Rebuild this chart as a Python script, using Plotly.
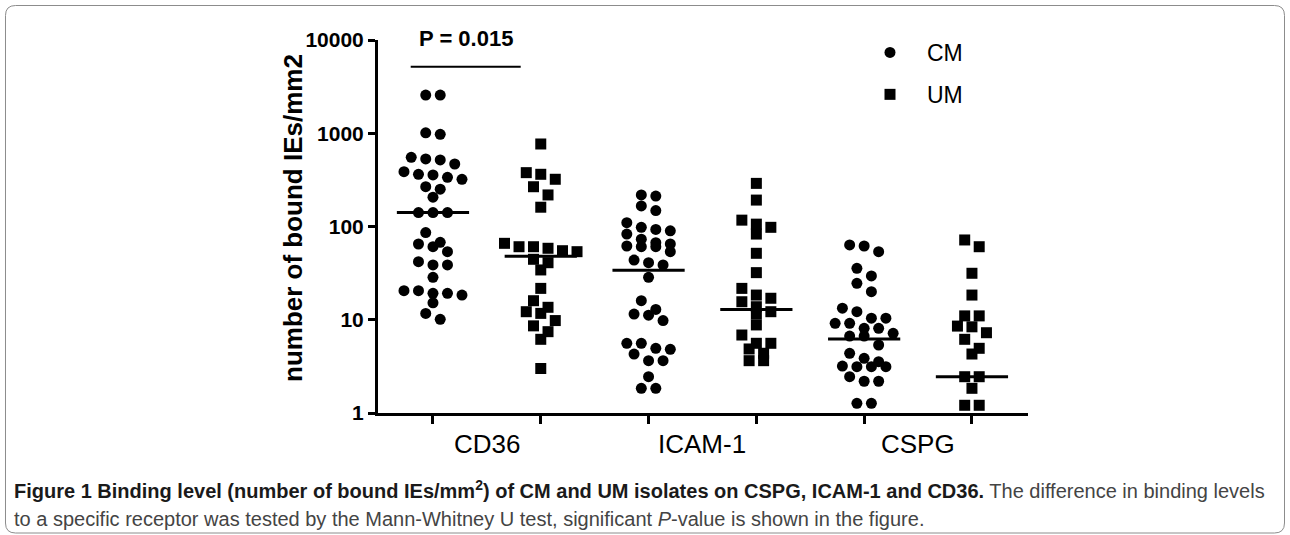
import numpy as np
import plotly.graph_objects as go

# ---------------- data ----------------
receptors = ["CD36", "ICAM-1", "CSPG"]
groups = ["CM", "UM"]

cd36_cm = [2570, 2570, 1010, 975, 552, 530, 517, 468, 387, 363, 357, 337, 321,
           267, 251, 206, 141, 141, 141, 86, 67.7, 64.9, 60.7, 53.7, 41.9, 38.7,
           38.7, 28.5, 20.5, 20.5, 19.2, 19.2, 18.4, 15.2, 11.7, 10.1]
cd36_um = [767, 378, 363, 321, 267, 218, 161, 66, 60.7, 60.7, 58.4, 55, 53.7,
           44.5, 40.9, 34.2, 21.7, 16.0, 13.6, 12.2, 11.7, 9.8, 8.6, 7.45, 6.17, 3.0]
icam_cm = [218, 212, 166, 148, 110, 98, 93, 90, 83, 73, 67, 64.9, 61.8, 60.7,
           60.7, 53.7, 43.7, 40.9, 38.7, 28.5, 16.0, 12.9, 11.5, 11.2, 9.8, 5.59,
           5.59, 4.94, 4.82, 4.29, 3.64, 3.64, 2.45, 1.84, 1.84]
icam_um = [290, 192, 117, 106, 98, 83, 51.6, 32, 21.7, 18.4, 17, 15.6, 13.8,
           12.2, 11.5, 8.8, 6.86, 5.59, 5.59, 4.86, 4.37, 3.64, 3.64]
cspg_cm = [63.4, 61.8, 53.7, 35.6, 29.5, 24.6, 20, 13.3, 12.2, 10.4, 10.4, 9.16,
           9.16, 8.1, 8.1, 7.16, 6.69, 6.69, 5.36, 4.37, 3.86, 3.55, 3.19, 3.14,
           3.14, 3.14, 2.45, 2.19, 2.19, 1.27, 1.27]
cspg_um = [71.7, 60.7, 31.5, 18.4, 11, 11, 8.55, 8.4, 7.26, 6.17, 4.94, 4.29,
           2.45, 2.45, 1.84, 1.21, 1.21]

median_cm = [141, 34, 6.2]
median_um = [48, 12.9, 2.45]

y_ticks = [1, 10, 100, 1000, 10000]
y_ticktext = ["1", "10", "100", "1000", "10000"]
p_text = "P = 0.015"

series = [cd36_cm, cd36_um, icam_cm, icam_um, cspg_cm, cspg_um]

# ---------------- geometry ----------------
W, H = 1290, 535
L, T, PW, PH = 378, 40, 650, 373
R, B = W - L - PW, H - T - PH
XR = [-0.51, 5.52]
YR = [0, 4]
xppu = PW / (XR[1] - XR[0])
ppd = PH / (YR[1] - YR[0])


def px2paper(px, py):
    return (px - L) / PW, (T + PH - py) / PH


def swarm(vals, unit_px=14.5, row_px=10.0):
    v = np.asarray(vals, float)
    ypx = np.log10(v) * ppd
    order = np.argsort(-v, kind="stable")
    offs = np.zeros(len(v))
    i = 0
    while i < len(order):
        start = ypx[order[i]]
        row = [order[i]]
        j = i + 1
        while j < len(order) and start - ypx[order[j]] < row_px:
            row.append(order[j])
            j += 1
        n = len(row)
        for k, idx in enumerate(row):
            offs[idx] = (k - (n - 1) / 2) * unit_px
        i = j
    return offs / xppu


FONT = "Liberation Sans, Arial, sans-serif"
fig = go.Figure()

symbols = {"CM": "circle", "UM": "square"}
for gi, g in enumerate(groups):
    xs, ys = [], []
    for ri in range(len(receptors)):
        vals = series[ri * 2 + gi]
        pos = ri * 2 + gi
        xs.extend(list(pos + swarm(vals)))
        ys.extend(vals)
    fig.add_trace(go.Scatter(
        x=xs, y=ys, mode="markers", name=g, legendgroup=g,
        marker=dict(symbol=symbols[g], size=11, color="black", line=dict(width=0)),
    ))

# median lines
for gi, meds in enumerate([median_cm, median_um]):
    for ri, m in enumerate(meds):
        pos = ri * 2 + gi
        fig.add_trace(go.Scatter(
            x=[pos - 0.335, pos + 0.335], y=[m, m], mode="lines",
            line=dict(color="black", width=3), showlegend=False, hoverinfo="skip"))

annotations = []
# category labels
for ri, r in enumerate(receptors):
    annotations.append(dict(x=ri * 2 + 0.5, y=px2paper(0, 444)[1], xref="x", yref="paper",
                            text=r, showarrow=False, xanchor="center", yanchor="middle",
                            font=dict(family=FONT, size=26, color="black")))
# y axis title
tx, ty = px2paper(293, 218)
annotations.append(dict(x=tx, y=ty, xref="paper", yref="paper", textangle=-90,
                        text="<b>number of bound IEs/mm2</b>", showarrow=False,
                        xanchor="center", yanchor="middle",
                        font=dict(family=FONT, size=26, color="black")))
# p value
annotations.append(dict(x=(466 - 433) / xppu, y=px2paper(0, 38)[1], xref="x", yref="paper",
                        text="<b>" + p_text + "</b>", showarrow=False,
                        xanchor="center", yanchor="middle",
                        font=dict(family=FONT, size=22, color="black")))
# caption
c1x, c1y = px2paper(12, 490)
c2x, c2y = px2paper(12, 519)
cap_font = "Liberation Sans, Arial, sans-serif"
annotations.append(dict(x=c1x, y=c1y, xref="paper", yref="paper", showarrow=False,
                        xanchor="left", yanchor="middle", align="left",
                        text=("<b>Figure 1 Binding level (number of bound IEs/mm<sup>2</sup>) of CM and UM "
                              "isolates on CSPG, ICAM-1 and CD36.</b> "
                              "<span style='color:#444444'>The difference in binding levels</span>"),
                        font=dict(family=cap_font, size=20, color="#1a1a1a")))
annotations.append(dict(x=c2x, y=c2y, xref="paper", yref="paper", showarrow=False,
                        xanchor="left", yanchor="middle", align="left",
                        text=("to a specific receptor was tested by the Mann-Whitney U test, significant "
                              "<i>P</i>-value is shown in the figure."),
                        font=dict(family=cap_font, size=20, color="#444444")))

# shapes: p-value bar and outer rounded frame
shapes = []
p0x, p0y = px2paper(410.7, 66.7)
p1x, _ = px2paper(520.7, 66.7)
shapes.append(dict(type="line", xref="paper", yref="paper", x0=p0x, x1=p1x, y0=p0y, y1=p0y,
                   line=dict(color="black", width=2)))

rad = 10
fx0, fy0, fx1, fy1 = 5.5, 5.5, 1284.5, 533


def P(px, py):
    a, b = px2paper(px, py)
    return f"{a:.5f},{b:.5f}"


path = (f"M {P(fx0 + rad, fy0)} L {P(fx1 - rad, fy0)} Q {P(fx1, fy0)} {P(fx1, fy0 + rad)} "
        f"L {P(fx1, fy1 - rad)} Q {P(fx1, fy1)} {P(fx1 - rad, fy1)} "
        f"L {P(fx0 + rad, fy1)} Q {P(fx0, fy1)} {P(fx0, fy1 - rad)} "
        f"L {P(fx0, fy0 + rad)} Q {P(fx0, fy0)} {P(fx0 + rad, fy0)} Z")
shapes.append(dict(type="path", xref="paper", yref="paper", path=path,
                   line=dict(color="#8c8c8c", width=1), layer="below"))

lx, ly = px2paper(853, 31)
fig.update_layout(
    width=W, height=H,
    margin=dict(l=L, r=R, t=T, b=B, pad=0),
    paper_bgcolor="white", plot_bgcolor="white",
    font=dict(family=FONT, color="black"),
    showlegend=True,
    legend=dict(x=lx, y=ly, xanchor="left", yanchor="top", bgcolor="rgba(0,0,0,0)",
                font=dict(family=FONT, size=23, color="black"),
                tracegroupgap=9, itemwidth=64),
    xaxis=dict(range=XR, tickvals=list(range(6)), showticklabels=False,
               showgrid=False, zeroline=False, showline=True, linecolor="black", linewidth=3,
               ticks="outside", ticklen=8, tickwidth=3, tickcolor="black", fixedrange=True),
    yaxis=dict(type="log", range=YR, tickvals=y_ticks, ticktext=y_ticktext,
               showgrid=False, zeroline=False, showline=True, linecolor="black", linewidth=3,
               ticks="outside", ticklen=7, tickwidth=3, tickcolor="black",
               tickfont=dict(family=FONT, size=21, color="black", weight="bold"),
               fixedrange=True),
    annotations=annotations,
    shapes=shapes,
)

fig.write_html("out.html", config={"displayModeBar": False},
               post_script="document.body.style.margin='0px';")
